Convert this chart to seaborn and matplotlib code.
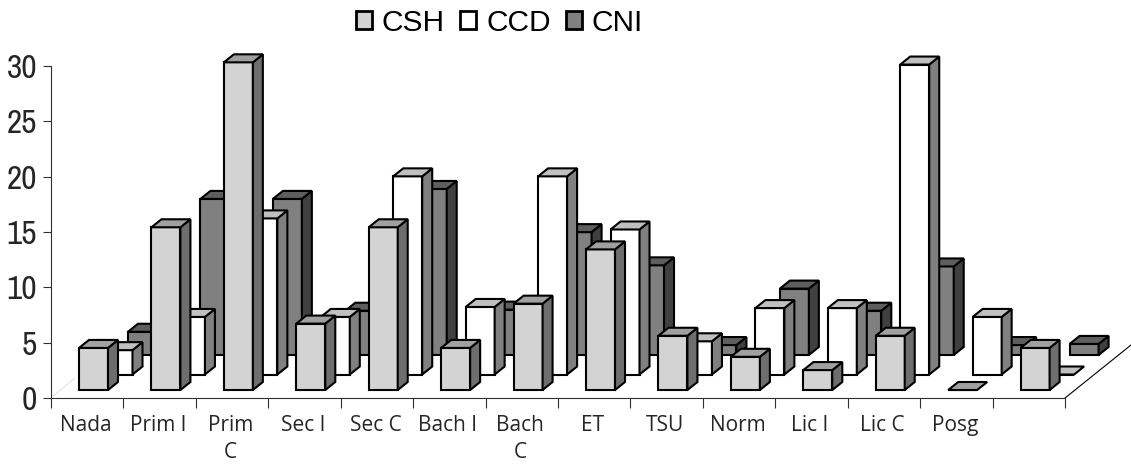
import matplotlib
matplotlib.use("Agg")
import matplotlib.pyplot as plt
from matplotlib import font_manager as fm
from matplotlib.patches import Patch, Polygon
import numpy as np
import pandas as pd
import seaborn as sns

categories = ["Nada", "Prim I", "Prim\nC", "Sec I", "Sec C", "Bach I", "Bach\nC",
              "ET", "TSU", "Norm", "Lic I", "Lic C", "Posg", ""]
csh = [3.8, 14.7, 29.6, 6.0, 14.7, 3.8, 7.8, 12.7, 4.9, 3.0, 1.8, 4.9, 0.0, 3.8]
ccd = [2.2, 5.2, 14.1, 5.2, 17.9, 6.1, 17.9, 13.1, 3.0, 6.0, 6.0, 28.0, 5.2, 0.0]
cni = [2.1, 14.1, 14.1, 4.0, 15.0, 4.1, 11.1, 8.1, 0.9, 6.0, 4.0, 8.0, 0.9, 1.0]

W, H = 1131, 466
PX_X = 72.43   # pixels per category
PX_Y = 11.07   # pixels per value unit
DX = 10 / PX_X
DY = 8 / PX_Y

# back row first so the front rows cover it
rows = [
    ("CNI", cni, 0.087 + 49 / PX_X, 43 / PX_Y, "#808080", "#404040", "#5e5e5e"),
    ("CCD", ccd, 0.087 + 24.5 / PX_X, 23.5 / PX_Y, "#ffffff", "#808080", "#c0c0c0"),
    ("CSH", csh, 0.087, 8 / PX_Y, "#d3d3d3", "#6e6e6e", "#a0a0a0"),
]

sns.set_theme(style="white")
plt.rcParams["font.family"] = ["Liberation Sans", "DejaVu Sans"]

fig = plt.figure(figsize=(W / 100, H / 100), dpi=100)
ax = fig.add_axes([51 / W, (H - 398) / H, (W - 51) / W, 398 / H])

for z, (name, values, shift, base, front, side, top) in enumerate(rows):
    df = pd.DataFrame({"pos": np.arange(len(values)) + shift, "value": values})
    n_before = len(ax.patches)
    sns.barplot(data=df, x="pos", y="value", native_scale=True, width=0.4, color=front,
                saturation=1, edgecolor="black", linewidth=1.5, errorbar=None, ax=ax)
    for bar in list(ax.patches)[n_before:]:
        bar.set_y(base)
        bar.set_zorder(z + 2)
        x0, x1 = bar.get_x(), bar.get_x() + bar.get_width()
        y0, y1 = base, base + bar.get_height()
        style = dict(edgecolor="black", linewidth=1.5, joinstyle="miter", zorder=z + 2)
        if y1 > y0:
            ax.add_patch(Polygon([(x1, y0), (x1 + DX, y0 + DY), (x1 + DX, y1 + DY), (x1, y1)],
                                 facecolor=side, **style))
        ax.add_patch(Polygon([(x0, y1), (x0 + DX, y1 + DY), (x1 + DX, y1 + DY), (x1, y1)],
                             facecolor=top, **style))

ax.set_xlim(-0.5, -0.5 + (W - 51) / PX_X)
ax.set_ylim(0, 398 / PX_Y)
ax.set_xlabel("")
ax.set_ylabel("")
ax.patch.set_alpha(0)

# floor edge on the right and the faint one on the left
end = len(categories) - 0.5
ax.plot([end, end + 66 / PX_X], [0, 53 / PX_Y], color="black", lw=0.8, clip_on=False, zorder=1)
ax.plot([-0.5, -0.5 + 24 / PX_X], [0, 20 / PX_Y], color="#e4e4e4", lw=0.8, zorder=1)

for s in ["top", "right"]:
    ax.spines[s].set_visible(False)
ax.spines["left"].set_bounds(0, 30)
ax.spines["bottom"].set_bounds(-0.5, end)
for s in ["left", "bottom"]:
    ax.spines[s].set_color("#303030")
    ax.spines[s].set_linewidth(0.8)

ax.set_yticks(range(0, 31, 5))
ax.tick_params(axis="y", left=True, length=6, width=0.8, color="#303030", pad=4, labelsize=24)

# condensed digits if a narrow face is around
narrow = sorted({f.name for f in fm.fontManager.ttflist if "Narrow" in f.name or "Condensed" in f.name})
for lab in ax.get_yticklabels():
    if narrow:
        lab.set_family(narrow[0])
    else:
        lab.set_fontsize(21)

ax.set_xticks(np.arange(len(categories) + 1) - 0.5)
ax.set_xticklabels([])
ax.tick_params(axis="x", which="major", bottom=True, length=7, width=0.8, color="#303030")
ax.set_xticks(np.arange(len(categories)) - 0.02, minor=True)
ax.set_xticklabels(categories, minor=True, fontsize=15, family=["Open Sans", "DejaVu Sans"],
                   linespacing=1.4)
ax.tick_params(axis="x", which="minor", bottom=False, length=0, pad=12)

handles = [Patch(facecolor=r[4], edgecolor="black", linewidth=2, label=r[0]) for r in reversed(rows)]
fig.legend(handles=handles, ncol=3, frameon=False, fontsize=21.5, loc="center left",
           bbox_to_anchor=(356 / W, 1 - 23 / H), borderpad=0, borderaxespad=0,
           handlelength=0.55, handleheight=0.55, handletextpad=0.32, columnspacing=0.5,
           labelcolor="black")

fig.savefig("out.png", dpi=100)
